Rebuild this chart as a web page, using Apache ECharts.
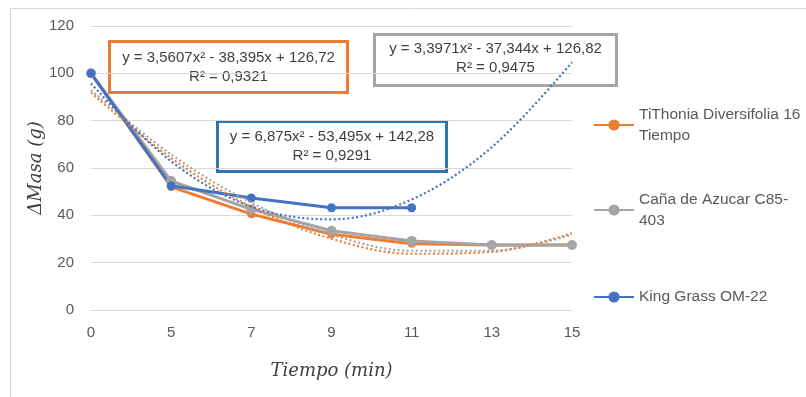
<!DOCTYPE html>
<html>
<head>
<meta charset="utf-8">
<script src="https://cdn.jsdelivr.net/npm/echarts@6/dist/echarts.min.js"></script>
<style>html,body{margin:0;padding:0;background:#fff}#c{width:806px;height:397px}</style>
</head>
<body>
<div id="c"></div>
<script>
var categories = ['0', '5', '7', '9', '11', '13', '15'];
var tithonia = [100, 52, 40.5, 32, 28, 27.5, 27.5];
var cana = [100, 54.5, 42.5, 33.5, 29.2, 27.5, 27.5];
var kingGrass = [100, 52.5, 47.3, 43.2, 43.2, null, null];
var tithoniaTrendCoef = [3.5607, -38.395, 126.72];
var canaTrendCoef = [3.3971, -37.344, 126.82];
var kingTrendCoef = [6.875, -53.495, 142.28];
var yTicks = [0, 20, 40, 60, 80, 100, 120];
var seriesNames = ['TiThonia Diversifolia 16 Tiempo', 'Caña de Azucar C85-403', 'King Grass OM-22'];
var legendLabels = ['TiThonia Diversifolia 16\nTiempo', 'Caña de Azucar C85-\n403', 'King Grass OM-22'];
var equations = [
  'y = 3,5607x² - 38,395x + 126,72\nR² = 0,9321',
  'y = 3,3971x² - 37,344x + 126,82\nR² = 0,9475',
  'y = 6,875x² - 53,495x + 142,28\nR² = 0,9291'
];

function trend(coef) {
  // Excel line-chart trendline: x is the category index (1..n)
  return categories.map(function (c, i) {
    var x = i + 1;
    return +(coef[0] * x * x + coef[1] * x + coef[2]).toFixed(2);
  });
}

var ORANGE = '#ED7D31', GRAY = '#A5A5A5', BLUE = '#4472C4';
var FONT = 'Liberation Sans';

function dataSeries(name, data, color, size) {
  return {
    name: name, type: 'line', data: data,
    lineStyle: {color: color, width: 3},
    itemStyle: {color: color},
    symbol: 'circle', symbolSize: size, showSymbol: true,
    connectNulls: false, z: 3,
    emphasis: {disabled: true}
  };
}
function trendSeries(name, data, color) {
  return {
    name: name, type: 'line', data: data, smooth: 0.35,
    lineStyle: {color: color, width: 2.2, type: [2, 2.5]},
    symbol: 'none', z: 4, silent: true,
    emphasis: {disabled: true}
  };
}

function legendFor(i, top, twoLines) {
  return {
    orient: 'vertical', left: 593, top: top, padding: 0,
    itemWidth: 40, itemHeight: 14, selectedMode: false,
    data: [seriesNames[i]],
    formatter: function () { return legendLabels[i]; },
    textStyle: {
      color: '#595959', fontFamily: FONT, fontSize: 15.5, lineHeight: 21,
      padding: twoLines ? [21, 0, 0, 0] : 0
    }
  };
}

function eqBox(text, x, y, w, h, color, dy) {
  return {
    type: 'group', left: x, top: y, z: 2,
    children: [
      {type: 'rect', shape: {x: 0, y: 0, width: w, height: h},
       style: {fill: 'none', stroke: color, lineWidth: 3}},
      {type: 'text', x: w / 2, y: h / 2 + (dy || 0),
       style: {text: text, fill: '#404040', font: '15px ' + FONT, align: 'center', verticalAlign: 'middle', lineHeight: 19}}
    ]
  };
}

var chart = echarts.init(document.getElementById('c'), null, {renderer: 'canvas'});
chart.setOption({
  animation: false,
  backgroundColor: '#fff',
  grid: {left: 91, right: 234, top: 26, bottom: 87},
  xAxis: {
    type: 'category', data: categories, boundaryGap: false,
    axisLine: {lineStyle: {color: '#D9D9D9'}},
    axisTick: {show: false},
    axisLabel: {color: '#595959', fontFamily: FONT, fontSize: 15, margin: 15},
    name: 'Tiempo (min)', nameLocation: 'middle', nameGap: 52,
    nameTextStyle: {color: '#404040', fontFamily: 'DejaVu Serif', fontStyle: 'italic', fontSize: 18}
  },
  yAxis: {
    type: 'value', min: 0, max: 120, interval: 20,
    axisLine: {show: false}, axisTick: {show: false},
    splitLine: {lineStyle: {color: '#D9D9D9'}},
    axisLabel: {color: '#595959', fontFamily: FONT, fontSize: 15, margin: 17,
      formatter: function (v) { return yTicks.indexOf(v) >= 0 ? String(v) : ''; }},
    name: 'ΔMasa (g)', nameLocation: 'middle', nameGap: 46, nameRotate: 90,
    nameMoveOverlap: false,
    nameTextStyle: {color: '#404040', fontFamily: 'DejaVu Serif', fontStyle: 'italic', fontSize: 18}
  },
  legend: [legendFor(0, 93.5, true), legendFor(1, 178.5, true), legendFor(2, 286.5, false)],
  series: [
    dataSeries(seriesNames[0], tithonia, ORANGE, 8),
    dataSeries(seriesNames[1], cana, GRAY, 10),
    dataSeries(seriesNames[2], kingGrass, BLUE, 9),
    trendSeries('Polinómica (Tithonia)', trend(tithoniaTrendCoef), ORANGE),
    trendSeries('Polinómica (Caña)', trend(canaTrendCoef), GRAY),
    trendSeries('Polinómica (King Grass)', trend(kingTrendCoef), BLUE)
  ],
  graphic: [
    {type: 'rect', left: 8, top: 6, shape: {x: 0, y: 0, width: 798, height: 389},
     style: {fill: 'none', stroke: '#D9D9D9', lineWidth: 1}, z: -10},
    eqBox(equations[0], 107, 39, 238, 51, ORANGE),
    eqBox(equations[1], 372, 32, 242, 51, GRAY, -2),
    eqBox(equations[2], 215, 119, 229, 50, '#2E75B6')
  ]
});
</script>
</body>
</html>
